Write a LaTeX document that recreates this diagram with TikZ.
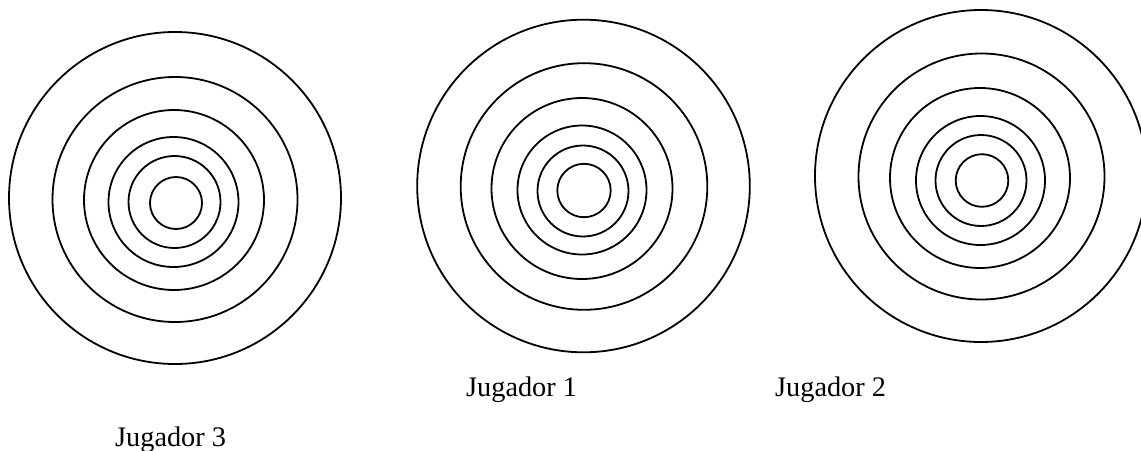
\documentclass[tikz,border=0pt]{standalone}
\usepackage{fontspec}
\setmainfont{Liberation Serif}
\begin{document}
\begin{tikzpicture}[x=1pt,y=-1pt,
  ring/.style={draw=black,line width=1.8pt},
  lbl/.style={anchor=base west,inner sep=0pt,font=\fontsize{28.3}{34}\selectfont}]
\useasboundingbox (0,0) rectangle (1141,450);
\clip (0,0) rectangle (1141,450);
% Target 3 (left)
\draw[ring] (175,198) circle (166);
\draw[ring] (175,199.5) circle (122.5);
\draw[ring] (174,200) circle (90);
\draw[ring] (173.5,202) circle (65);
\draw[ring] (174.5,202) circle (46);
\draw[ring] (176,203) circle (26);
% Target 1 (middle)
\draw[ring] (583.5,186) circle (166.3);
\draw[ring] (584,186.5) circle (123.3);
\draw[ring] (582,188.5) circle (90.5);
\draw[ring] (582,190) circle (64.5);
\draw[ring] (583,191) circle (45.5);
\draw[ring] (584,190.5) circle (26.7);
% Target 2 (right)
\draw[ring] (981,176) circle (166);
\draw[ring] (981.5,176.5) circle (123);
\draw[ring] (980,178) circle (90);
\draw[ring] (980.5,180.5) circle (64.5);
\draw[ring] (981,180.5) circle (45.5);
\draw[ring] (982,180.5) circle (26.3);
% labels
\node[lbl] (j1) at (466,396.5) {Jugador 1};
\node[lbl] (j2) at (775,396.5) {Jugador 2};
\node[lbl] (j3) at (115,446.5) {Jugador 3};
\end{tikzpicture}
\end{document}
